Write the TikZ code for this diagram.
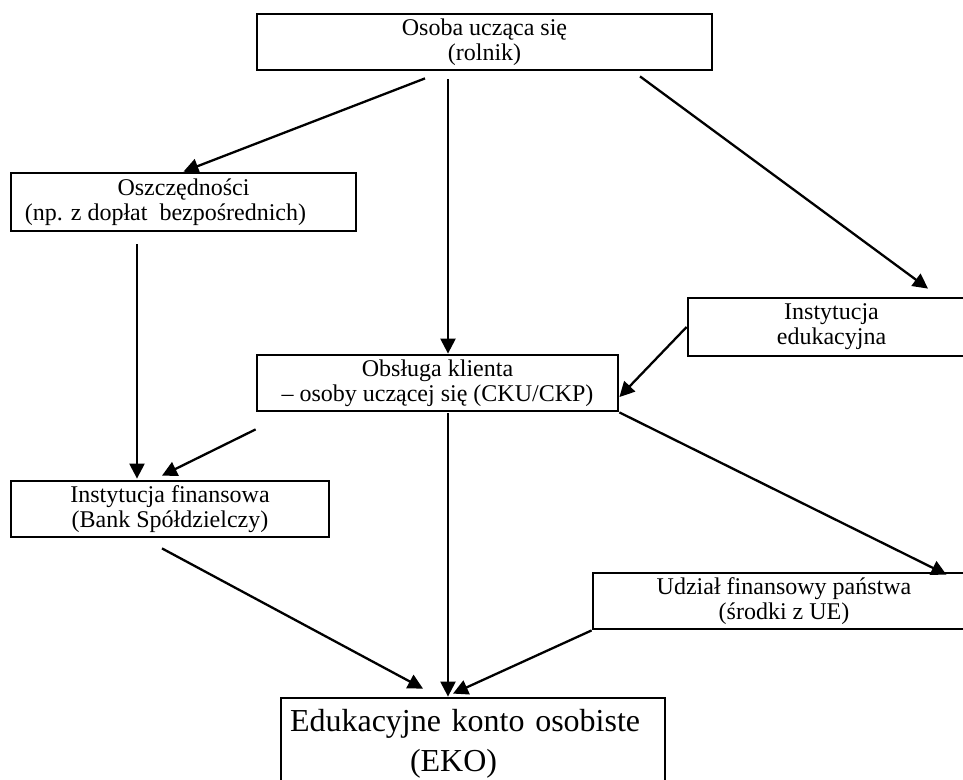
\documentclass[tikz,border=0pt]{standalone}
\usepackage{fontspec}
\setmainfont{Liberation Serif}
\usetikzlibrary{arrows.meta}

\tikzset{
  blok/.style={draw, line width=2.8pt, inner sep=0pt, align=center,
    font=\fontsize{24}{25}\selectfont},
  strzalka/.style={line width=2.3pt, -{Triangle[length=15pt,width=15pt]}}
}

\begin{document}
\begin{tikzpicture}[x=1pt,y=-1pt]
			%%%%% START %%%%%
			\useasboundingbox (0,0) rectangle (963,779);
			
			\node[blok, minimum width=455pt, minimum height=56pt] (osoba) at (484.5,42) {Osoba ucząca się\\(rolnik)};
			\node[blok, minimum width=345pt, minimum height=58pt] (oszcz) at (183.5,202) {Oszczędności\\(np. z dopłat~~bezpośrednich)\hspace*{36pt}};
			\node[blok, minimum width=361pt, minimum height=56pt] (obsl) at (437.5,383) {Obsługa klienta\\– osoby uczącej się (CKU/CKP)};
			\node[blok, minimum width=287pt, minimum height=58pt] (eduk) at (831.5,327) {Instytucja\\edukacyjna};
			\node[blok, minimum width=318pt, minimum height=56pt] (finans) at (170,509) {Instytucja finansowa\\(Bank Spółdzielczy)};
			\node[blok, minimum width=382pt, minimum height=56pt] (udzial) at (784,601) {Udział finansowy państwa\\(środki z UE)};
			\node[blok, minimum width=384pt, minimum height=92pt, text width=366pt, inner xsep=9pt, align=left,
				font=\fontsize{32}{40}\selectfont] (eko) at (473,744) {Edukacyjne konto osobiste\\\hspace*{120pt}(EKO)};
			
			% z gory
			\draw[strzalka] ([xshift=-59.5pt,yshift=-7pt]osoba.south) -- (oszcz.north);
			\draw[strzalka] ([xshift=-36.5pt,yshift=-8pt]osoba.south) -- ([xshift=10.5pt]obsl.north);
			\draw[strzalka] ([xshift=155.5pt,yshift=-5pt]osoba.south) -- ([xshift=96.5pt,yshift=8pt]eduk.north);
			\draw[strzalka] (eduk.west) -- ([yshift=-14pt]obsl.east);
			
			% srodek
			\draw[strzalka] ([xshift=-46.5pt,yshift=-12pt]oszcz.south) -- ([xshift=-33pt,yshift=1pt]finans.north);
			\draw[strzalka] ([yshift=-17pt]obsl.south west) -- ([xshift=-8pt,yshift=4pt]finans.north);
			\draw[strzalka] ([xshift=10.5pt,yshift=-1pt]obsl.south) -- ([xshift=-25pt]eko.north);
			\draw[strzalka] (obsl.south east) -- ([xshift=-30pt,yshift=-3pt]udzial.north east);
			
			% do EKO
			\draw[strzalka] ([xshift=-8pt,yshift=-10pt]finans.south) -- ([xshift=-50pt,yshift=8pt]eko.north);
			\draw[strzalka] (udzial.south west) -- ([xshift=-20pt,yshift=3pt]eko.north);
			
			%%%%% END %%%%%
\end{tikzpicture}
\end{document}
